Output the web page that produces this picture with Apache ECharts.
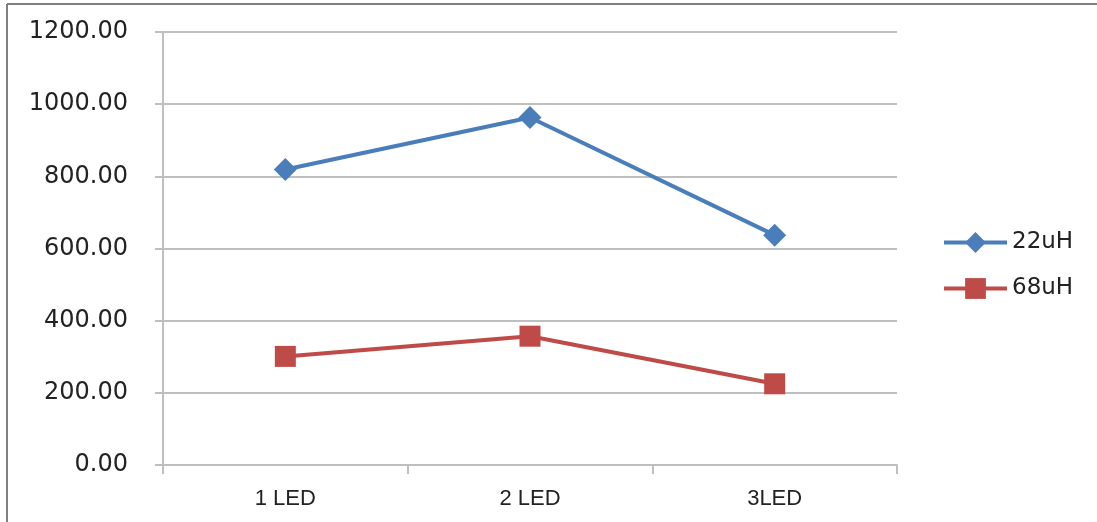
<!DOCTYPE html>
<html>
<head>
<meta charset="utf-8">
<script src="https://cdn.jsdelivr.net/npm/echarts@6/dist/echarts.min.js"></script>
<style>
html,body{margin:0;padding:0;background:#fff;}
#c{width:1097px;height:522px;}
</style>
</head>
<body>
<div id="c"></div>
<script>
const categories = ['1 LED', '2 LED', '3LED'];
const seriesNames = ['22uH', '68uH'];
const values22uH = [819, 963, 637];
const values68uH = [301, 357, 225];
const yTicks = { min: 0, max: 1200, interval: 200 };

const chart = echarts.init(document.getElementById('c'));
const gridColor = '#bfbfbf';
const blue = '#4a7ebb';
const red = '#be4b48';
chart.setOption({
  animation: false,
  graphic: [
    { type: 'line', shape: { x1: 7, y1: 4, x2: 1097, y2: 4 }, style: { stroke: '#7f7f7f', lineWidth: 2 } },
    { type: 'line', shape: { x1: 7, y1: 4, x2: 7, y2: 522 }, style: { stroke: '#7f7f7f', lineWidth: 2 } }
  ],
  grid: { left: 163, right: 200, top: 32, bottom: 57 },
  legend: {
    orient: 'vertical',
    left: 942,
    top: 231,
    padding: 0,
    itemWidth: 63,
    itemHeight: 26,
    itemGap: 23,
    lineStyle: { width: 4 },
    textStyle: { fontFamily: 'DejaVu Sans', fontSize: 23, color: '#222' },
    data: seriesNames
  },
  xAxis: {
    type: 'category',
    data: categories,
    boundaryGap: true,
    axisLine: { lineStyle: { color: gridColor, width: 2 } },
    axisTick: { show: true, length: 9, lineStyle: { color: gridColor, width: 2 } },
    axisLabel: { margin: 23, fontFamily: '"Liberation Sans"', fontSize: 22, color: '#222' }
  },
  yAxis: {
    type: 'value',
    min: yTicks.min,
    max: yTicks.max,
    interval: yTicks.interval,
    axisLine: { show: true, lineStyle: { color: gridColor, width: 2 } },
    axisTick: { show: true, length: 8, lineStyle: { color: gridColor, width: 2 } },
    splitLine: { lineStyle: { color: gridColor, width: 2 } },
    axisLabel: { margin: 35, fontFamily: 'DejaVu Sans', fontSize: 24, color: '#222', formatter: v => v.toFixed(2) }
  },
  series: [
    {
      name: seriesNames[0], type: 'line', data: values22uH,
      symbol: 'diamond', symbolSize: 23,
      lineStyle: { color: blue, width: 4 },
      itemStyle: { color: blue }
    },
    {
      name: seriesNames[1], type: 'line', data: values68uH,
      symbol: 'rect', symbolSize: 21,
      lineStyle: { color: red, width: 4 },
      itemStyle: { color: red }
    }
  ]
});
</script>
</body>
</html>
